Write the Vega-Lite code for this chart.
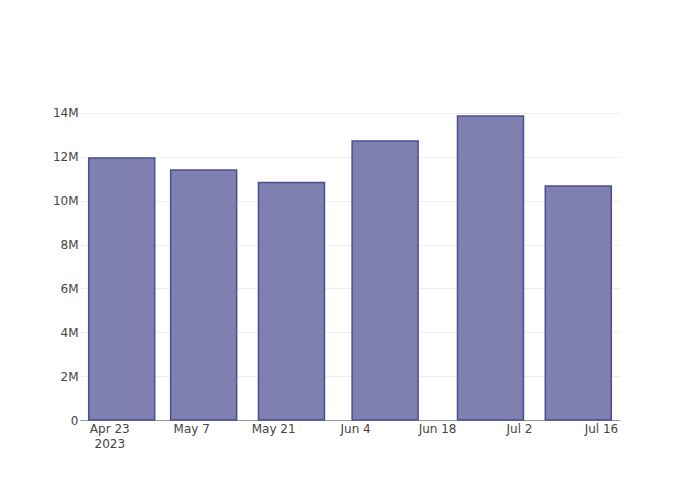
{
  "$schema": "https://vega.github.io/schema/vega-lite/v6.json",
  "width": 540,
  "height": 320,
  "autosize": {"type": "none"},
  "padding": {"left": 80, "top": 100, "right": 80, "bottom": 80},
  "background": "white",
  "config": {
    "view": {"stroke": null},
    "font": "DejaVu Sans"
  },
  "data": {
    "values": [
      {"date": "2023-04-25T03:00:00Z", "value": 11950000},
      {"date": "2023-05-09T03:00:00Z", "value": 11400000},
      {"date": "2023-05-24T03:00:00Z", "value": 10830000},
      {"date": "2023-06-09T03:00:00Z", "value": 12720000},
      {"date": "2023-06-27T03:00:00Z", "value": 13860000},
      {"date": "2023-07-12T03:00:00Z", "value": 10670000}
    ]
  },
  "mark": {"type": "bar", "width": 66, "fill": "#7f7fb0", "stroke": "#4d4d94", "strokeWidth": 1.5},
  "encoding": {
    "x": {
      "field": "date",
      "type": "temporal",
      "title": null,
      "scale": {"type": "utc", "domain": ["2023-04-18T00:00:00Z", "2023-07-19T06:00:00Z"], "nice": false, "padding": 0},
      "axis": {
        "values": [
          {"year": 2023, "month": "apr", "date": 23, "utc": true},
          {"year": 2023, "month": "may", "date": 7, "utc": true},
          {"year": 2023, "month": "may", "date": 21, "utc": true},
          {"year": 2023, "month": "jun", "date": 4, "utc": true},
          {"year": 2023, "month": "jun", "date": 18, "utc": true},
          {"year": 2023, "month": "jul", "date": 2, "utc": true},
          {"year": 2023, "month": "jul", "date": 16, "utc": true}
        ],
        "labelExpr": "utcFormat(datum.value, '%m-%d') == '04-23' ? [utcFormat(datum.value, '%b %-d'), '2023'] : utcFormat(datum.value, '%b %-d')",
        "labelFontSize": 12,
        "labelColor": "#444",
        "labelPadding": 3,
        "labelLineHeight": 15,
        "labelBaseline": "top",
        "ticks": false,
        "grid": false,
        "domainColor": "#9a9a9a",
        "domainWidth": 1.2,
        "labelOverlap": false,
        "labelFlush": false
      }
    },
    "y": {
      "field": "value",
      "type": "quantitative",
      "title": null,
      "scale": {"domain": [0, 14590000], "nice": false, "zero": true},
      "axis": {
        "values": [0, 2000000, 4000000, 6000000, 8000000, 10000000, 12000000, 14000000],
        "labelExpr": "datum.value == 0 ? '0' : format(datum.value, '~s')",
        "labelFontSize": 12,
        "labelColor": "#444",
        "labelPadding": 2,
        "ticks": false,
        "domain": false,
        "gridColor": "#eeeeee",
        "gridWidth": 1
      }
    }
  }
}
